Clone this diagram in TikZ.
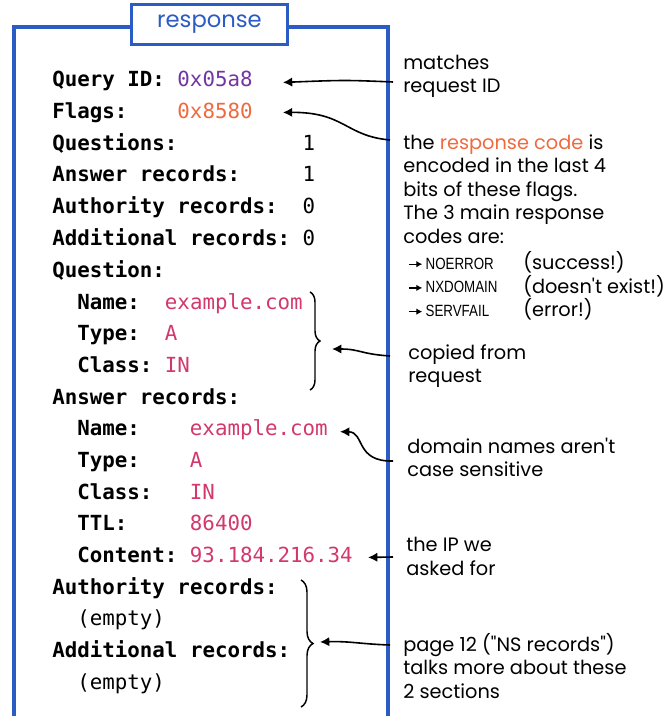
\documentclass[tikz,border=0pt]{standalone}
\usepackage{fontspec}
\usepackage{xcolor}
\usepackage{tikz}
\usetikzlibrary{arrows.meta,calc,decorations.pathreplacing}

\newfontfamily\codefont{DejaVu Sans Mono}
\newfontfamily\handfont{Poppins}
\newfontfamily\narrowfont[FakeStretch=0.82]{Liberation Sans}
\definecolor{frameblue}{HTML}{2B5CC3}
\definecolor{idpurple}{HTML}{7335A3}
\definecolor{flagorange}{HTML}{EE6A3F}
\definecolor{valpink}{HTML}{D2386C}
\newcommand{\codearr}{\tikz[baseline=-3.8pt]\draw[line width=1pt,-{Latex[length=4.5pt,width=5pt]}] (0pt,0pt) -- (10pt,0pt);\,}

\begin{document}
\begin{tikzpicture}[x=0.75pt, y=-0.75pt,
  lbl/.style={anchor=base west, inner sep=0pt, font=\codefont\bfseries\fontsize{15.6pt}{18pt}\selectfont},
  val/.style={anchor=base west, inner sep=0pt, font=\codefont\fontsize{15.6pt}{18pt}\selectfont},
  note/.style={anchor=base west, inner sep=0pt, align=left, font=\handfont\fontsize{14.5pt}{17.6pt}\selectfont},
  codes/.style={note, font=\narrowfont\fontsize{12.2pt}{17.8pt}\selectfont},
  titlebox/.style={draw=frameblue, line width=2.2pt, fill=white, text=frameblue, minimum width=117pt, minimum height=30pt, inner sep=0pt, font=\handfont\fontsize{17pt}{18pt}\selectfont},
  arr/.style={line width=1.2pt, -{Latex[length=7pt,width=7pt]}},
  brc/.style={line width=1.1pt, decorate, decoration={brace, amplitude=#1}}]
\useasboundingbox (0,0) rectangle (671,716);
% frame, open at the bottom
\draw[frameblue, line width=2.5pt] (14,716) |- (388,27) -- (388,716);
\node[titlebox] (title) at (209.5,24.5) {response};

% header fields
\node[lbl] (qid) at (52,87) {Query ID:};
\node[val, text=idpurple] (vqid) at (177.2,87) {0x05a8};
\node[lbl] (flg) at (52,119) {Flags:};
\node[val, text=flagorange] (vflg) at (177.2,119) {0x8580};
\node[lbl] (nq) at (52,150.5) {Questions:};
\node[val] (vnq) at (302.4,150.5) {1};
\node[lbl] (nan) at (52,182) {Answer records:};
\node[val] (vnan) at (302.4,182) {1};
\node[lbl] (nau) at (52,214) {Authority records:};
\node[val] (vnau) at (302.4,214) {0};
\node[lbl] (nad) at (52,245.5) {Additional records:};
\node[val] (vnad) at (302.4,245.5) {0};

% question section
\node[lbl] (qs) at (52,277) {Question:};
\node[lbl] (qname) at (77,309) {Name:};
\node[val, text=valpink] (vqname) at (164.7,309) {example.com};
\node[lbl] (qtype) at (77,340.5) {Type:};
\node[val, text=valpink] (vqtype) at (164.7,340.5) {A};
\node[lbl] (qclass) at (77,372) {Class:};
\node[val, text=valpink] (vqclass) at (164.7,372) {IN};

% answer section
\node[lbl] (as) at (52,404) {Answer records:};
\node[lbl] (aname) at (77,435.5) {Name:};
\node[val, text=valpink] (vaname) at (189.7,435.5) {example.com};
\node[lbl] (atype) at (77,467) {Type:};
\node[val, text=valpink] (vatype) at (189.7,467) {A};
\node[lbl] (aclass) at (77,499) {Class:};
\node[val, text=valpink] (vaclass) at (189.7,499) {IN};
\node[lbl] (attl) at (77,530.5) {TTL:};
\node[val, text=valpink] (vattl) at (189.7,530.5) {86400};
\node[lbl] (acont) at (77,562) {Content:};
\node[val, text=valpink] (vacont) at (189.7,562) {93.184.216.34};

% empty sections
\node[lbl] (aus) at (52,594) {Authority records:};
\node[val] (vaus) at (77,625.5) {(empty)};
\node[lbl] (ads) at (52,657) {Additional records:};
\node[val] (vads) at (77,689) {(empty)};

% notes (base = last line)
\node[note] (nid) at (403,93) {matches\\request ID};
\node[note] (nflg) at (403,243.3) {the {\color{flagorange}response code} is\\encoded in the last 4\\bits of these flags.\\The 3 main response\\codes are:};
\node[codes] (rcodes) at (408,316.7) {\codearr NOERROR\\\codearr NXDOMAIN\\\codearr SERVFAIL};
\node[note] (rmeans) at (523,316.7) {(success!)\\(doesn't exist!)\\(error!)};
\node[note] (ncopy) at (408,382.7) {copied from\\request};
\node[note] (ncase) at (407,476.7) {domain names aren't\\case sensitive};
\node[note] (nip) at (406,575) {the IP we\\asked for};
\node[note] (nns) at (403,698) {page 12 ("NS records")\\talks more about these\\2 sections};

% braces
\draw[brc=7.5pt] (310,292) -- (310,390);
\draw[brc=9pt] (301,580) -- (301,707);
\coordinate (b1) at (332,349);
\coordinate (b2) at (320,642);

% connectors
\coordinate (t1) at (393,82);
\coordinate (t2) at (390,140);
\coordinate (t3) at (390,356);
\coordinate (t4) at (393,461);
\coordinate (t5) at (393,557);
\coordinate (t6) at (390,645);
\draw[arr] (t1) .. controls (345,80) .. ($(vqid.east)+(30,3)$);
\draw[arr] (t2) .. controls (345,136) and (345,112) .. ($(vflg.east)+(30,1)$);
\draw[arr] (t3) .. controls (360,354) and (360,349) .. (b1);
\draw[arr] (t4) .. controls (355,462) and (365,432) .. ($(vaname.east)+(12,2)$);
\draw[arr] (t5) -- ($(vacont.east)+(15,3)$);
\draw[arr] (t6) .. controls (360,644) and (350,641) .. (b2);
\end{tikzpicture}
\end{document}
